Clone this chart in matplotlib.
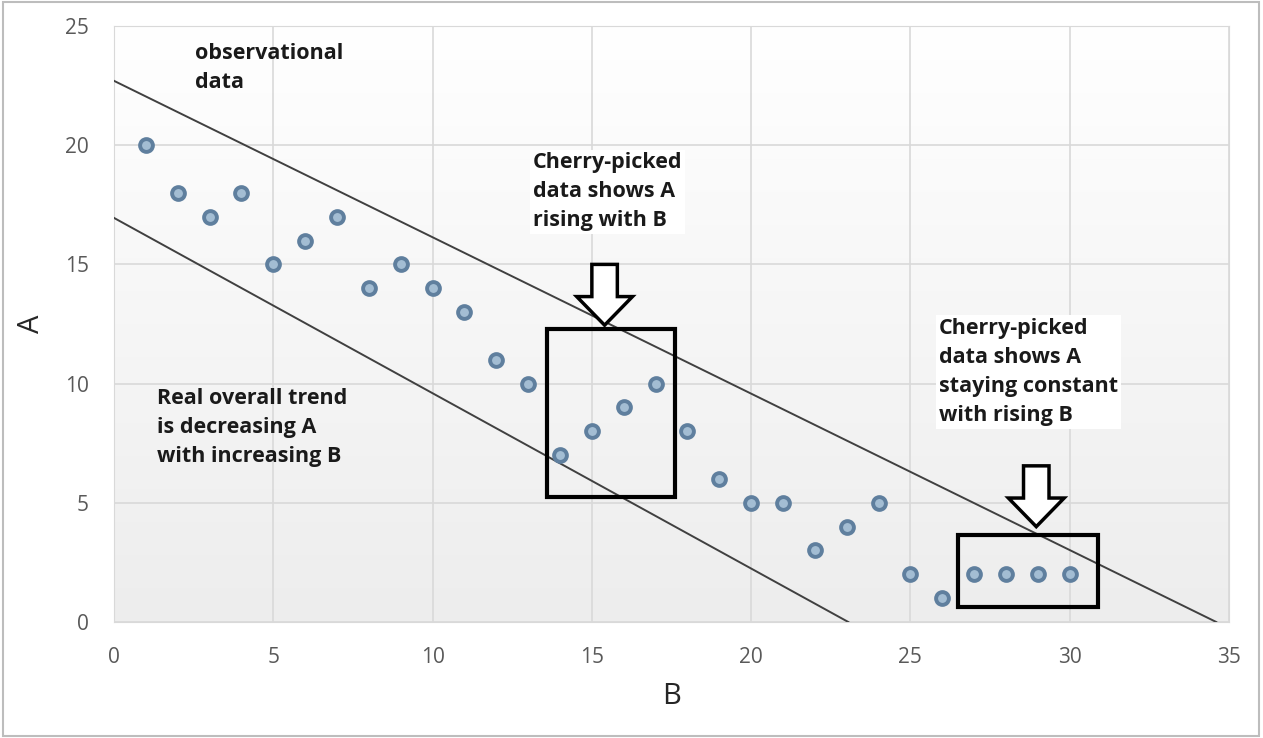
import numpy as np
import matplotlib
matplotlib.use("Agg")
import matplotlib.pyplot as plt
from matplotlib.patches import Rectangle, FancyArrow

# observational data (B, A)
b_vals = list(range(1, 31))
a_vals = [20, 18, 17, 18, 15, 16, 17, 14, 15, 14, 13, 11, 10, 7, 8,
          9, 10, 8, 6, 5, 5, 3, 4, 5, 2, 1, 2, 2, 2, 2]

# envelope lines (start/end points)
upper_x = [0, 34.6]
upper_y = [22.7, 0]
lower_x = [0, 23.05]
lower_y = [16.95, 0]

# cherry-picked boxes: (x0, y0, x1, y1)
boxes = [(13.6, 5.25, 17.6, 12.3), (26.5, 0.65, 30.9, 3.65)]

# hollow arrows: (x, y_top, y_tip)
arrows = [(15.4, 15.0, 12.45), (28.95, 6.55, 4.0)]

x_ticks = [0, 5, 10, 15, 20, 25, 30, 35]
y_ticks = [0, 5, 10, 15, 20, 25]

plt.rcParams["font.family"] = ["Open Sans", "DejaVu Sans"]

fig = plt.figure(figsize=(12.63, 7.38), dpi=100)
ax = fig.add_axes([114 / 1263, 1 - 622 / 738, (1229 - 114) / 1263, (622 - 26) / 738])

# faint gradient background like the original
grad = np.linspace(1.0, 0.0, 256).reshape(-1, 1)
ax.imshow(grad, extent=[0, 1, 0, 1], transform=ax.transAxes, aspect="auto",
          cmap=matplotlib.colors.LinearSegmentedColormap.from_list("g", ["#ededed", "#ffffff"]),
          zorder=0)

ax.set_xlim(0, 35)
ax.set_ylim(0, 25)
ax.set_xticks(x_ticks)
ax.set_yticks(y_ticks)
ax.grid(color="#d9d9d9", linewidth=1.2, zorder=1)
ax.set_axisbelow(True)
for s in ax.spines.values():
    s.set_color("#d9d9d9")
ax.tick_params(length=0, labelsize=15, labelcolor="#595959", pad=18)

# envelope lines
ax.plot(upper_x, upper_y, color="#404040", lw=1.4, zorder=3)
ax.plot(lower_x, lower_y, color="#404040", lw=1.4, zorder=3)

# points
ax.scatter(b_vals, a_vals, s=85, facecolor="#a3bdd3", edgecolor="#5f7f9e",
           linewidth=2.8, zorder=4)

# boxes
for x0, y0, x1, y1 in boxes:
    ax.add_patch(Rectangle((x0, y0), x1 - x0, y1 - y0, fill=False,
                           edgecolor="black", lw=3, zorder=5))

# hollow block arrows
for x, ytop, ytip in arrows:
    ax.add_patch(FancyArrow(x, ytop, 0, ytip - ytop, width=0.8, head_width=1.75,
                            head_length=1.2, length_includes_head=True,
                            facecolor="white", edgecolor="black", lw=2.5, zorder=6))

txt = dict(fontsize=15.5, fontweight="bold", color="#1a1a1a", va="top", ha="left",
           linespacing=1.5, zorder=7)
ax.text(2.55, 24.3, "observational\ndata", **txt)
ax.text(1.35, 9.8, "Real overall trend\nis decreasing A\nwith increasing B", **txt)
ax.text(13.15, 19.7, "Cherry-picked\ndata shows A\nrising with B",
        bbox=dict(facecolor="white", edgecolor="none", pad=2), **txt)
ax.text(25.9, 12.75, "Cherry-picked\ndata shows A\nstaying constant\nwith rising B",
        bbox=dict(facecolor="white", edgecolor="none", pad=2), **txt)

ax.set_xlabel("B", fontsize=21, color="#262626", labelpad=10)
ax.set_ylabel("A", fontsize=21, color="#262626", labelpad=14)

# thin outer frame
fig.patches.append(Rectangle((0.002, 0.003), 0.995, 0.994, transform=fig.transFigure,
                             fill=False, edgecolor="#bdbdbd", lw=1.5))

fig.savefig("out.png", dpi=100)
